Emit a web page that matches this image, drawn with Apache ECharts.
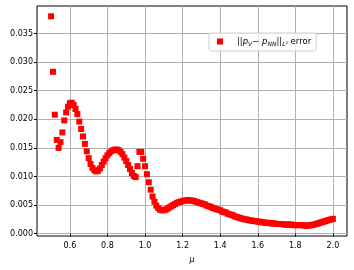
<!DOCTYPE html>
<html lang="en">
<head>
    <meta charset="UTF-8">
    <title>L2 error</title>
    <script src="https://cdn.jsdelivr.net/npm/echarts@6/dist/echarts.min.js"></script>
    <style>
        body { margin: 0; background: #fff; }
        #chart { width: 354px; height: 270px; }
    </style>
</head>
<body>
<div id="chart"></div>
<script>
    // mu grid (x values)
    const mu = [
        0.50, 0.51, 0.52, 0.53, 0.54, 0.55, 0.56, 0.57, 0.58, 0.59,
        0.60, 0.61, 0.62, 0.63, 0.64, 0.65, 0.66, 0.67, 0.68, 0.69,
        0.70, 0.71, 0.72, 0.73, 0.74, 0.75, 0.76, 0.77, 0.78, 0.79,
        0.80, 0.81, 0.82, 0.83, 0.84, 0.85, 0.86, 0.87, 0.88, 0.89,
        0.90, 0.91, 0.92, 0.93, 0.94, 0.95, 0.96, 0.97, 0.98, 0.99,
        1.00, 1.01, 1.02, 1.03, 1.04, 1.05, 1.06, 1.07, 1.08, 1.09,
        1.10, 1.11, 1.12, 1.13, 1.14, 1.15, 1.16, 1.17, 1.18, 1.19,
        1.20, 1.21, 1.22, 1.23, 1.24, 1.25, 1.26, 1.27, 1.28, 1.29,
        1.30, 1.31, 1.32, 1.33, 1.34, 1.35, 1.36, 1.37, 1.38, 1.39,
        1.40, 1.41, 1.42, 1.43, 1.44, 1.45, 1.46, 1.47, 1.48, 1.49,
        1.50, 1.51, 1.52, 1.53, 1.54, 1.55, 1.56, 1.57, 1.58, 1.59,
        1.60, 1.61, 1.62, 1.63, 1.64, 1.65, 1.66, 1.67, 1.68, 1.69,
        1.70, 1.71, 1.72, 1.73, 1.74, 1.75, 1.76, 1.77, 1.78, 1.79,
        1.80, 1.81, 1.82, 1.83, 1.84, 1.85, 1.86, 1.87, 1.88, 1.89,
        1.90, 1.91, 1.92, 1.93, 1.94, 1.95, 1.96, 1.97, 1.98, 1.99,
        2.00
    ];

    // ||p_V - p_NN|| L2 error
    const l2Error = [
        0.0380, 0.0283, 0.0208, 0.0164, 0.0150, 0.0160, 0.0177, 0.0198, 0.0212, 0.0222,
        0.0228, 0.0229, 0.0225, 0.0218, 0.0209, 0.0196, 0.0183, 0.0170, 0.0157, 0.0144,
        0.0132, 0.0122, 0.0115, 0.0111, 0.0109, 0.0110, 0.0114, 0.0120, 0.0126, 0.0132,
        0.0137, 0.0141, 0.0144, 0.0146, 0.0147, 0.0147, 0.0146, 0.0143, 0.0139, 0.0133,
        0.0127, 0.0120, 0.0113, 0.0106, 0.0101, 0.0099, 0.0118, 0.0143, 0.0143, 0.0131,
        0.0118, 0.0104, 0.0090, 0.0077, 0.0065, 0.0056, 0.0049, 0.0045, 0.0042, 0.0041,
        0.0041, 0.0042, 0.0044, 0.0046, 0.0048, 0.0050, 0.0052, 0.0054, 0.0055, 0.0056,
        0.0057, 0.0058, 0.0058, 0.0059, 0.0058, 0.0058, 0.0057, 0.0056, 0.0055, 0.0054,
        0.0053, 0.0052, 0.0051, 0.0049, 0.0048, 0.0047, 0.0045, 0.0044, 0.0043, 0.0042,
        0.0041, 0.0039, 0.0038, 0.0037, 0.0035, 0.0034, 0.0033, 0.0032, 0.0030, 0.0029,
        0.0028, 0.0027, 0.0026, 0.0025, 0.0025, 0.0024, 0.0023, 0.0023, 0.0022, 0.0022,
        0.0021, 0.0021, 0.0020, 0.0020, 0.0019, 0.0019, 0.0019, 0.0018, 0.0018, 0.0018,
        0.0017, 0.0017, 0.0017, 0.0017, 0.0016, 0.0016, 0.0016, 0.0016, 0.0016, 0.0015,
        0.0015, 0.0015, 0.0015, 0.0015, 0.0015, 0.0014, 0.0014, 0.0014, 0.0015, 0.0015,
        0.0016, 0.0017, 0.0018, 0.0019, 0.0020, 0.0021, 0.0022, 0.0023, 0.0024, 0.0025,
        0.0026
    ];

    // tick positions
    const xTicks = [0.6, 0.8, 1.0, 1.2, 1.4, 1.6, 1.8, 2.0];
    const yTicks = [0.000, 0.005, 0.010, 0.015, 0.020, 0.025, 0.030, 0.035];

    const font = 'DejaVu Sans';
    const points = mu.map((m, i) => [m, l2Error[i]]);

    var chart = echarts.init(document.getElementById('chart'));
    chart.setOption({
        animation: false,
        grid: {
            left: 37, top: 6, width: 310, height: 230,
            show: true, borderColor: '#000', borderWidth: 1
        },
        legend: {
            left: 209, top: 33,
            padding: [4, 5, 4, 8],
            backgroundColor: 'rgba(255,255,255,0.8)',
            borderColor: '#d0d0d0', borderWidth: 1, borderRadius: 2,
            icon: 'rect', itemWidth: 6, itemHeight: 6,
            data: ['err'],
            formatter: function () {
                return '{n|||}{i|p}{s|V}{n|− }{i|p}{s|NN}{n|||}{s|L²}{n| error}';
            },
            textStyle: {
                fontFamily: font, fontSize: 8.5, color: '#000',
                padding: [0, 0, 0, 9],
                rich: {
                    n: {fontFamily: font, fontSize: 8.5, color: '#000'},
                    i: {fontFamily: font, fontSize: 8.5, fontStyle: 'italic', color: '#000'},
                    s: {fontFamily: font, fontSize: 6, fontStyle: 'italic', color: '#000', padding: [5, 0, 0, 0]}
                }
            }
        },
        xAxis: {
            type: 'value', min: 0.425, max: 2.075,
            name: 'μ', nameLocation: 'middle', nameGap: 20,
            nameTextStyle: {fontFamily: font, fontSize: 8, fontStyle: 'italic', color: '#000'},
            axisLine: {show: false},
            axisTick: {show: true, length: 3, inside: false, customValues: xTicks, lineStyle: {color: '#000'}},
            axisLabel: {
                customValues: xTicks, margin: 6,
                fontFamily: font, fontSize: 8, color: '#000',
                formatter: v => v.toFixed(1)
            },
            splitLine: {show: true, lineStyle: {color: '#b0b0b0', width: 1}}
        },
        yAxis: {
            type: 'value', min: -0.0004, max: 0.0398,
            axisLine: {show: false},
            axisTick: {show: true, length: 3, inside: false, customValues: yTicks, lineStyle: {color: '#000'}},
            axisLabel: {
                customValues: yTicks, margin: 4,
                fontFamily: font, fontSize: 8, color: '#000',
                formatter: v => v.toFixed(3)
            },
            splitLine: {show: true, lineStyle: {color: '#b0b0b0', width: 1}}
        },
        series: [{
            name: 'err',
            type: 'scatter',
            symbol: 'rect',
            symbolSize: 6,
            itemStyle: {color: '#ff0000', opacity: 1},
            data: points
        }]
    });
</script>
</body>
</html>
